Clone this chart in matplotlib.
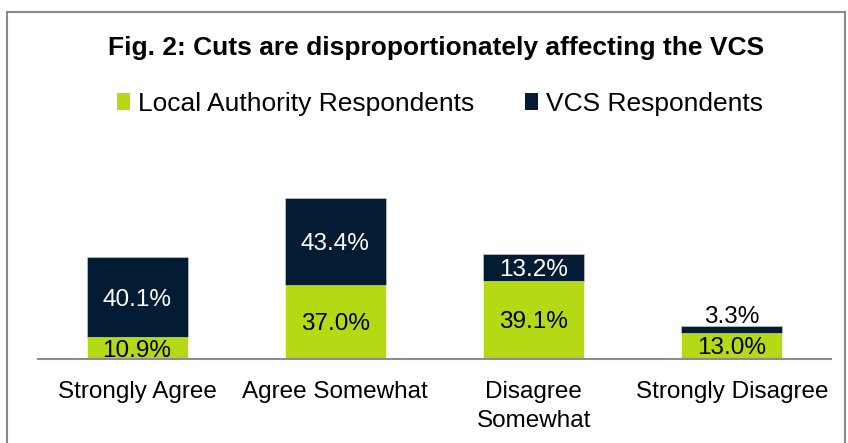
import matplotlib
matplotlib.use("Agg")
import matplotlib.pyplot as plt
from matplotlib.patches import Rectangle, Patch

categories = ["Strongly Agree", "Agree Somewhat", "Disagree\nSomewhat", "Strongly Disagree"]
local_authority = [10.9, 37.0, 39.1, 13.0]
vcs = [40.1, 43.4, 13.2, 3.3]
series_names = ["Local Authority Respondents", "VCS Respondents"]
title = "Fig. 2: Cuts are disproportionately affecting the VCS"

GREEN = "#B5D915"
NAVY = "#031B33"

plt.rcParams['font.family'] = ['Liberation Sans', 'DejaVu Sans']

fig = plt.figure(figsize=(8.48, 4.43), dpi=100)
W, H = 848, 443
ax = fig.add_axes([38 / W, (H - 359) / H, (831 - 38) / W, 180 / H])

x = list(range(len(categories)))
b1 = ax.bar(x, local_authority, width=0.51, color=GREEN, edgecolor="white", linewidth=0.4)
b2 = ax.bar(x, vcs, width=0.51, bottom=local_authority, color=NAVY, edgecolor="#cfd4d9", linewidth=0.4)

for rect, v in zip(b1, local_authority):
    cx = rect.get_x() + rect.get_width() / 2
    ax.text(cx, rect.get_y() + rect.get_height() / 2, f"{v:.1f}%", ha="center", va="center_baseline",
            fontsize=17.5, color="black")
for rect, v in zip(b2, vcs):
    cx = rect.get_x() + rect.get_width() / 2
    if v < 6:
        ax.text(cx, rect.get_y() + rect.get_height() + 1.5, f"{v:.1f}%", ha="center", va="baseline",
                fontsize=17.5, color="black")
    else:
        ax.text(cx, rect.get_y() + rect.get_height() / 2, f"{v:.1f}%", ha="center", va="center_baseline",
                fontsize=17.5, color="white")

ax.set_xlim(-0.5, 3.5)
ax.set_ylim(0, 90)
ax.set_xticks(x)
ax.set_xticklabels(categories, fontsize=17.5, linespacing=1.4)
ax.tick_params(axis="x", length=0, pad=16)
ax.set_yticks([])
for s in ["top", "right", "left"]:
    ax.spines[s].set_visible(False)
ax.spines["bottom"].set_color("#8c8c8c")
ax.spines["bottom"].set_linewidth(1.5)

fig.text(436 / W, 1 - 48 / H, title, ha="center", va="center", fontsize=19, fontweight="bold")

handles = [Patch(facecolor=GREEN), Patch(facecolor=NAVY)]
fig.legend(handles, series_names, loc="center", bbox_to_anchor=(440 / W, 1 - 104 / H), ncol=2,
           frameon=False, fontsize=19, handlelength=0.5, handleheight=0.6, handletextpad=0.3,
           columnspacing=1.9)

fig.patches.append(Rectangle((7 / W, -0.1), (845 - 7) / W, 1.1 - 12 / H, transform=fig.transFigure,
                             fill=False, edgecolor="#8a8a8a", linewidth=1.5))

fig.savefig("out.png", dpi=100)
